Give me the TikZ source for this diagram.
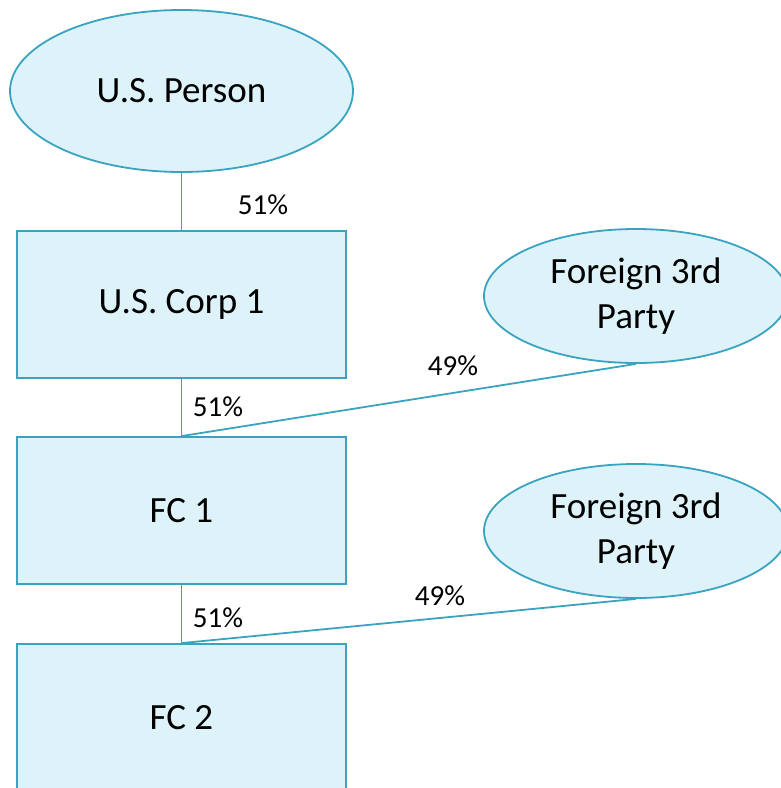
\documentclass[tikz,border=0pt]{standalone}
\usepackage{fontspec}
\setmainfont{Carlito}
\usetikzlibrary{shapes.geometric}
\definecolor{boxfill}{HTML}{DDF3F9}
\definecolor{boxline}{HTML}{3AA3BF}
\tikzset{
  oval/.style={ellipse, draw=boxline, fill=boxfill, line width=1.8pt, inner sep=0pt, align=center,
    font=\fontsize{37}{45}\selectfont},
  entity/.style={rectangle, draw=boxline, fill=boxfill, line width=1.8pt, inner sep=0pt,
    minimum width=329pt, minimum height=147pt, font=\fontsize{37}{45}\selectfont},
  link/.style={draw=boxline, line width=1.8pt},
  pct/.style={font=\fontsize{29}{34}\selectfont, inner sep=0pt}
}
\begin{document}
\begin{tikzpicture}[x=1pt,y=-1pt]
\useasboundingbox (0,0) rectangle (781,788);
\clip (0,0) rectangle (781,788);
\node[oval, minimum width=343pt, minimum height=162pt] (usp) at (181.5,91) {U.S. Person};
\node[entity] (usc) at (181.5,304.5) {U.S. Corp 1};
\node[entity] (fc1) at (181.5,510.5) {FC 1};
\node[entity] (fc2) at (181.5,717.5) {FC 2};
\node[oval, minimum width=304pt, minimum height=134pt] (f1) at (636,296) {Foreign 3rd\\Party};
\node[oval, minimum width=304pt, minimum height=134pt] (f2) at (636,531) {Foreign 3rd\\Party};
\draw[link] (usp.south) -- (usc.north);
\draw[link] (usc.south) -- (fc1.north);
\draw[link] (f1.south) -- (fc1.north);
\draw[link] (fc1.south) -- (fc2.north);
\draw[link] (f2.south) -- (fc2.north);
\node[pct] (l1) at (263,205) {51\%};
\node[pct] (l2) at (218,407) {51\%};
\node[pct] (l3) at (453,366) {49\%};
\node[pct] (l4) at (218,618) {51\%};
\node[pct] (l5) at (440,596) {49\%};
\end{tikzpicture}
\end{document}
